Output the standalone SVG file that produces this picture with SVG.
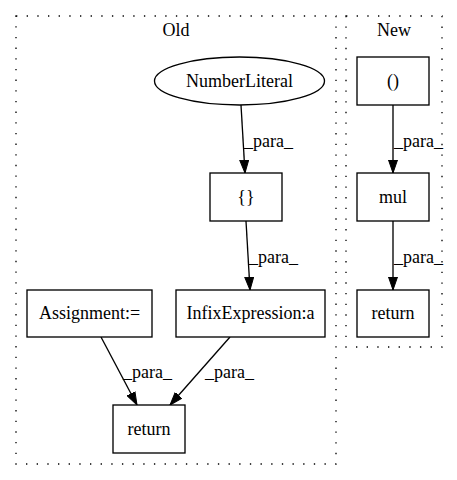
<svg xmlns="http://www.w3.org/2000/svg" width="457" height="480" viewBox="0 0 457 480">
<style>
text{font-family:"Liberation Serif","Times New Roman",serif;font-size:18px;fill:#000}
.c{text-anchor:middle}
.n{fill:#fff;stroke:#000;stroke-width:1.33}
.cl{fill:none;stroke:#000;stroke-width:1.33;stroke-dasharray:1.33,9.33}
.e{fill:none;stroke:#000;stroke-width:1.33}
</style>
<defs>
<marker id="ah" viewBox="0 0 13 10" refX="13" refY="5" markerWidth="13" markerHeight="10" markerUnits="userSpaceOnUse" orient="auto">
<path d="M0,0.5 L13,5 L0,9.5 Z" fill="#000" stroke="#000" stroke-width="1"/>
</marker>
</defs>
<rect width="457" height="480" fill="#fff"/>
<g id="cluster_old">
<rect class="cl" x="16" y="16" width="320" height="448"/>
<text class="c" x="176" y="36">Old</text>
</g>
<g id="cluster_new">
<rect class="cl" x="346" y="16" width="96" height="331"/>
<text class="c" x="394" y="36">New</text>
</g>
<g id="connectors">
<path class="e" d="M241,105 L245,173" marker-end="url(#ah)"/>
<text x="244" y="147">_para_</text>
<path class="e" d="M246,221 L250,290" marker-end="url(#ah)"/>
<text x="249" y="263">_para_</text>
<path class="e" d="M393,105 L393,173" marker-end="url(#ah)"/>
<text x="394" y="147">_para_</text>
<path class="e" d="M393,221 L393,290" marker-end="url(#ah)"/>
<text x="394" y="263">_para_</text>
<path class="e" d="M101,337 L137,405" marker-end="url(#ah)"/>
<text x="123" y="378">_para_</text>
<path class="e" d="M230,337 L170,405" marker-end="url(#ah)"/>
<text x="205" y="378">_para_</text>
</g>
<g id="node_numberliteral">
<ellipse class="n" cx="239.5" cy="81" rx="85" ry="24"/>
<text class="c" x="239.5" y="87">NumberLiteral</text>
</g>
<g id="node_paren">
<rect class="n" x="357" y="57" width="72" height="48"/>
<text class="c" x="393" y="87">()</text>
</g>
<g id="node_brace">
<rect class="n" x="210" y="173" width="72" height="48"/>
<text class="c" x="246" y="203">{}</text>
</g>
<g id="node_mul">
<rect class="n" x="357" y="173" width="72" height="48"/>
<text class="c" x="393" y="203">mul</text>
</g>
<g id="node_assignment">
<rect class="n" x="27" y="290" width="125" height="47"/>
<text class="c" x="89.5" y="319">Assignment:=</text>
</g>
<g id="node_infix">
<rect class="n" x="176" y="290" width="149" height="47"/>
<text class="c" x="250.5" y="319">InfixExpression:a</text>
</g>
<g id="node_return_new">
<rect class="n" x="357" y="290" width="72" height="47"/>
<text class="c" x="393" y="319">return</text>
</g>
<g id="node_return_old">
<rect class="n" x="113" y="405" width="72" height="48"/>
<text class="c" x="149" y="435">return</text>
</g>
</svg>
